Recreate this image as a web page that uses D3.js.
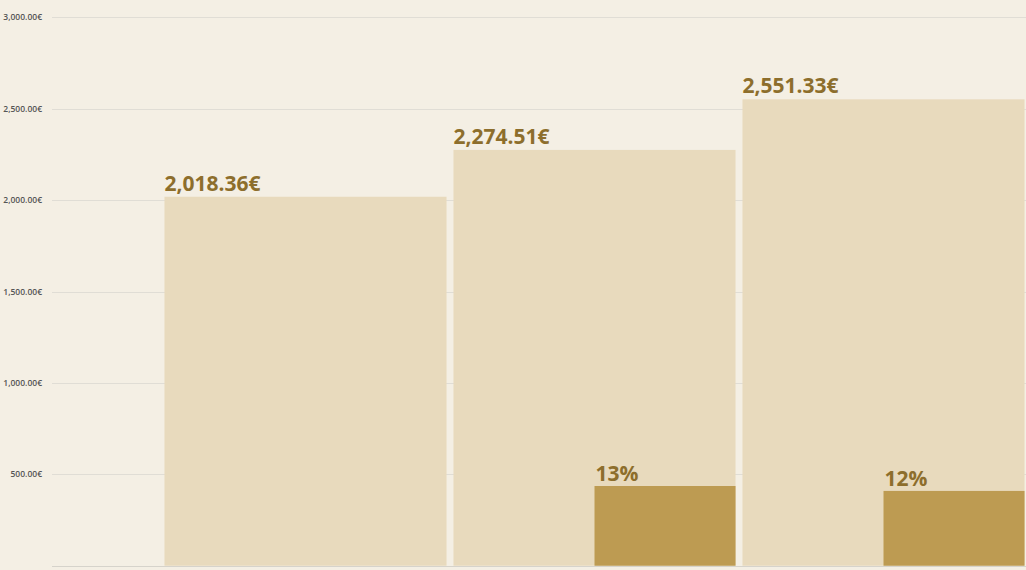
<!DOCTYPE html>
<html lang="en">
<head>
<meta charset="UTF-8">
<title>Chart</title>
<script src="https://d3js.org/d3.v7.min.js"></script>
<style>
  body { margin: 0; background: #f4efe4; }
  svg { display: block; }
</style>
</head>
<body>
<svg id="chart" width="1026" height="570"></svg>
<script>
// data
const periods = ["P1", "P2", "P3"];
const totals = [2018.36, 2274.51, 2551.33];
const totalLabels = ["2,018.36€", "2,274.51€", "2,551.33€"];
const growth = [null, 436, 409];
const growthLabels = [null, "13%", "12%"];
const ticks = [500, 1000, 1500, 2000, 2500, 3000];

const width = 1026, height = 570;
const svg = d3.select("#chart");

svg.append("rect").attr("width", width).attr("height", height).attr("fill", "#f4efe4");

const y = d3.scaleLinear().domain([0, 3000]).range([565.7, 17.3]);
const x = d3.scaleBand().domain(periods).range([161, 1028]).paddingInner(0.024).paddingOuter(0.012);

// grid
svg.append("g")
  .selectAll("line")
  .data(ticks)
  .enter()
  .append("line")
  .attr("x1", 52).attr("x2", width)
  .attr("y1", d => Math.round(y(d)) + 0.5)
  .attr("y2", d => Math.round(y(d)) + 0.5)
  .attr("stroke", "#e0ddd5")
  .attr("stroke-width", 1);

svg.append("g")
  .selectAll("text")
  .data(ticks)
  .enter()
  .append("text")
  .attr("x", 42)
  .attr("y", d => y(d) + 3)
  .attr("text-anchor", "end")
  .attr("font-family", "Open Sans, sans-serif")
  .attr("font-weight", 600)
  .attr("font-size", 8.5)
  .attr("fill", "#555")
  .text(d => d3.format(",.2f")(d) + "€");

// main bars
svg.append("g")
  .selectAll("rect")
  .data(periods)
  .enter()
  .append("rect")
  .attr("x", d => x(d))
  .attr("y", (d, i) => y(totals[i]))
  .attr("width", x.bandwidth())
  .attr("height", (d, i) => y(0) - y(totals[i]))
  .attr("fill", "#e8dabd");

svg.append("g")
  .selectAll("text")
  .data(periods)
  .enter()
  .append("text")
  .attr("x", d => x(d))
  .attr("y", (d, i) => y(totals[i]) - 6)
  .attr("font-family", "Open Sans, sans-serif")
  .attr("font-weight", 700)
  .attr("font-size", 21)
  .attr("fill", "#8d6e2c")
  .text((d, i) => totalLabels[i]);

// growth bars (right half of band)
const gIdx = periods.map((d, i) => i).filter(i => growth[i] != null);
svg.append("g")
  .selectAll("rect")
  .data(gIdx)
  .enter()
  .append("rect")
  .attr("x", i => x(periods[i]) + x.bandwidth() / 2)
  .attr("y", i => y(growth[i]))
  .attr("width", x.bandwidth() / 2)
  .attr("height", i => y(0) - y(growth[i]))
  .attr("fill", "#bd9b52");

svg.append("g")
  .selectAll("text")
  .data(gIdx)
  .enter()
  .append("text")
  .attr("x", i => x(periods[i]) + x.bandwidth() / 2 + 1)
  .attr("y", i => y(growth[i]) - 5)
  .attr("font-family", "Open Sans, sans-serif")
  .attr("font-weight", 700)
  .attr("font-size", 21)
  .attr("fill", "#8d6e2c")
  .text(i => growthLabels[i]);

// baseline
svg.append("line")
  .attr("x1", 52).attr("x2", width)
  .attr("y1", 566.5).attr("y2", 566.5)
  .attr("stroke", "#d6d3cb");
</script>
</body>
</html>
